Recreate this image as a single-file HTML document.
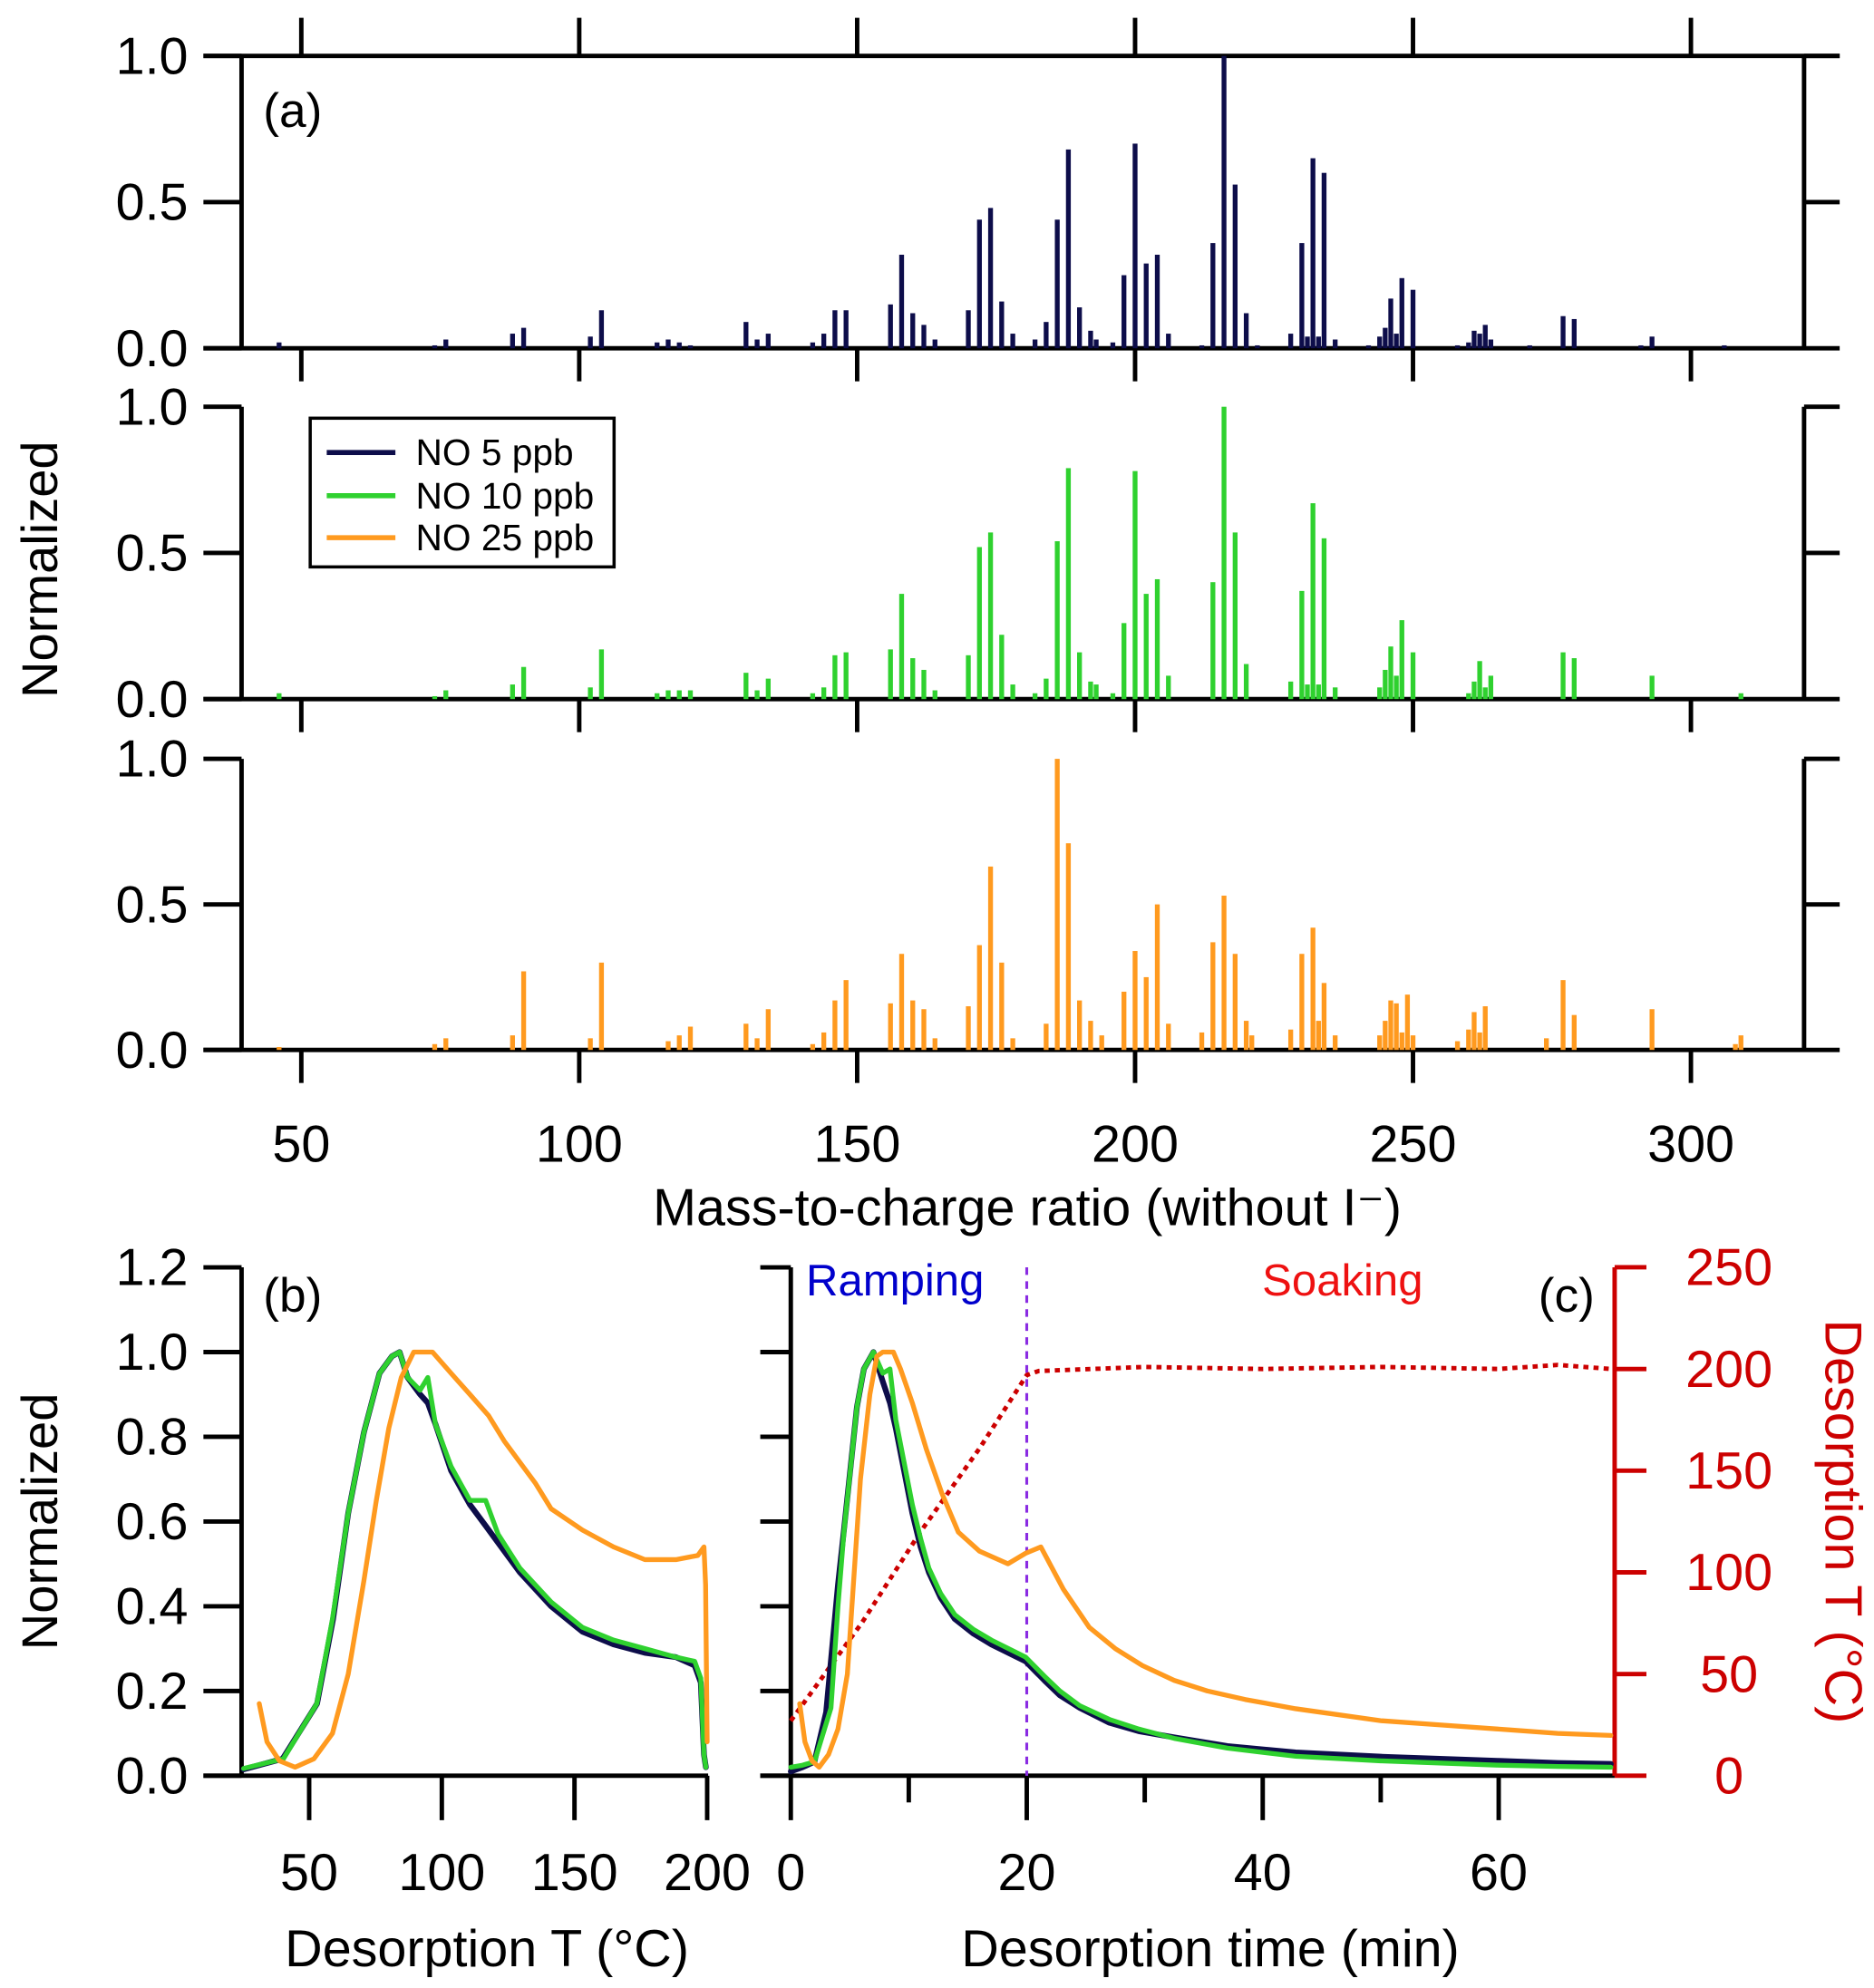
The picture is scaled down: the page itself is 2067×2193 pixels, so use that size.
<!DOCTYPE html>
<html><head><meta charset="utf-8"><style>
html,body{margin:0;padding:0;background:#fff}
svg{display:block}
text{font-family:"Liberation Sans",Arial,sans-serif}
</style></head><body>
<svg id="fig" xmlns="http://www.w3.org/2000/svg" width="2067" height="2193" viewBox="0 0 1474 1564" preserveAspectRatio="none">
<g id="axes"></g>
<g id="marks"></g>
<g id="labels"></g>
</svg>
<script>
// ---------- Panel (a) data ----------
const mz5 = [46,74,76,88,90,102,104,114,116,118,120,130,132,134,142,144,146,148,156,158,160,162,164,170,172,174,176,178,182,184,186,188,190,192,193,196,198,200,202,204,206,212,214,216,218,220,222,228,230,231,232,233,234,236,242,244,245,246,247,248,250,258,260,261,262,263,264,271,277,279,291,293,306];
const h5 = [0.02,0.01,0.03,0.05,0.07,0.04,0.13,0.02,0.03,0.02,0.01,0.09,0.03,0.05,0.02,0.05,0.13,0.13,0.15,0.32,0.12,0.08,0.03,0.13,0.44,0.48,0.16,0.05,0.03,0.09,0.44,0.68,0.14,0.06,0.03,0.02,0.25,0.70,0.29,0.32,0.05,0.01,0.36,1.0,0.56,0.12,0.01,0.05,0.36,0.04,0.65,0.04,0.60,0.03,0.01,0.04,0.07,0.17,0.05,0.24,0.20,0.01,0.02,0.06,0.05,0.08,0.03,0.01,0.11,0.10,0.01,0.04,0.01];
const mz10 = [46,74,76,88,90,102,104,114,116,118,120,130,132,134,142,144,146,148,156,158,160,162,164,170,172,174,176,178,182,184,186,188,190,192,193,196,198,200,202,204,206,214,216,218,220,228,230,231,232,233,234,236,244,245,246,247,248,250,260,261,262,263,264,277,279,293,309];
const h10 = [0.02,0.01,0.03,0.05,0.11,0.04,0.17,0.02,0.03,0.03,0.03,0.09,0.03,0.07,0.02,0.04,0.15,0.16,0.17,0.36,0.14,0.10,0.03,0.15,0.52,0.57,0.22,0.05,0.02,0.07,0.54,0.79,0.16,0.06,0.05,0.02,0.26,0.78,0.36,0.41,0.08,0.40,1.0,0.57,0.12,0.06,0.37,0.05,0.67,0.05,0.55,0.04,0.04,0.10,0.18,0.08,0.27,0.16,0.02,0.06,0.13,0.04,0.08,0.16,0.14,0.08,0.02];
const mz25 = [46,74,76,88,90,102,104,116,118,120,130,132,134,142,144,146,148,156,158,160,162,164,170,172,174,176,178,184,186,188,190,192,194,198,200,202,204,206,212,214,216,218,220,221,228,230,232,233,234,236,244,245,246,247,248,249,250,258,260,261,262,263,274,277,279,293,308,309];
const h25 = [0.01,0.02,0.04,0.05,0.27,0.04,0.30,0.03,0.05,0.08,0.09,0.04,0.14,0.02,0.06,0.17,0.24,0.16,0.33,0.17,0.14,0.04,0.15,0.36,0.63,0.30,0.04,0.09,1.0,0.71,0.17,0.10,0.05,0.20,0.34,0.25,0.50,0.09,0.06,0.37,0.53,0.33,0.10,0.05,0.07,0.33,0.42,0.10,0.23,0.05,0.05,0.10,0.17,0.16,0.06,0.19,0.05,0.03,0.07,0.13,0.06,0.15,0.04,0.24,0.12,0.14,0.02,0.05];
const mzTicks = [50,100,150,200,250,300];
const normTicksA = [0.0,0.5,1.0];
// ---------- Panel (b) data ----------
const bT5 = [25.3,40,53,59,64.7,70.6,76.5,81.2,84.1,87.1,91.8,94.7,97.6,103.5,110.6,116.5,121.2,129.4,141.2,153,164.7,176.5,188.2,195.3,197.6,198.8,199.5];
const bY5 = [0.015,0.04,0.17,0.37,0.62,0.81,0.95,0.99,1.0,0.94,0.90,0.88,0.83,0.72,0.64,0.59,0.55,0.48,0.40,0.34,0.31,0.29,0.28,0.26,0.22,0.05,0.02];
const bT10 = [25.3,40.3,52.9,58.8,64.7,70.6,76.5,81.2,84.1,87.1,91.8,94.7,97.6,103.5,110.6,116.5,121.2,129.4,141.2,153,164.7,176.5,188.2,195.3,197.6,198.8,199.5];
const bY10 = [0.017,0.04,0.17,0.37,0.62,0.81,0.95,0.99,1.0,0.94,0.91,0.94,0.83,0.73,0.65,0.65,0.57,0.49,0.41,0.35,0.32,0.30,0.28,0.27,0.23,0.05,0.02];
const bT25 = [31.2,34.1,38.8,44.7,51.8,58.8,64.7,70.6,75.3,80,84.7,89.4,96.5,103.5,110.6,117.6,123.5,129.4,135.3,141.2,153,164.7,176.5,188.2,196.5,198.8,199.4,199.8,200];
const bY25 = [0.17,0.08,0.035,0.02,0.04,0.10,0.24,0.46,0.65,0.82,0.94,1.0,1.0,0.95,0.90,0.85,0.79,0.74,0.69,0.63,0.58,0.54,0.51,0.51,0.52,0.54,0.45,0.2,0.08];
const bXTicks = [50,100,150,200];
const normTicksB = [0.0,0.2,0.4,0.6,0.8,1.0,1.2];
// ---------- Panel (c) data ----------
const cT5 = [0,1,2,3,4,4.5,5.6,6.2,7,7.8,8.4,8.9,9.6,10.3,11,11.7,12.7,13.9,15.5,17,19.9,21.5,22.8,24.5,27,29.5,32.6,37,42.8,50,55,60,65,69.5];
const cY5 = [0.01,0.02,0.033,0.15,0.45,0.58,0.87,0.96,1.0,0.93,0.88,0.82,0.72,0.62,0.54,0.48,0.42,0.37,0.335,0.31,0.27,0.225,0.19,0.16,0.125,0.105,0.09,0.07,0.055,0.045,0.04,0.035,0.03,0.028];
const cT10 = [0,1,2,3.4,4,4.5,5.6,6.2,7,7.8,8.4,8.9,9.6,10.3,11,11.7,12.7,13.9,15.5,17,19.9,21.5,22.8,24.5,27,29.5,32.6,37,42.8,50,55,60,65,69.5];
const cY10 = [0.02,0.025,0.033,0.16,0.40,0.575,0.87,0.96,1.0,0.95,0.96,0.84,0.74,0.64,0.56,0.49,0.43,0.38,0.345,0.32,0.28,0.235,0.20,0.165,0.133,0.11,0.0875,0.065,0.046,0.035,0.03,0.025,0.022,0.02];
const cT25 = [0.75,1.2,1.8,2.4,3.2,4.0,4.8,5.9,6.7,7.3,7.8,8.7,9.3,10.3,11.5,12.8,14.2,16,18.4,19.9,21.2,23.1,25.3,27.5,29.8,32.5,35.3,38.5,42.8,50,55,60,65,69.5];
const cY25 = [0.17,0.08,0.035,0.02,0.05,0.11,0.24,0.70,0.90,0.99,1.0,1.0,0.96,0.88,0.77,0.667,0.575,0.53,0.50,0.525,0.54,0.44,0.35,0.30,0.26,0.225,0.20,0.18,0.158,0.13,0.12,0.11,0.10,0.095];
const cTempT = [0,6,11,16,20,21,30,40,50,60,65,69.5];
const cTempV = [27,75,120,161,197,199,201,200,201,200,202,200];
const cXTicks = [0,20,40,60];
const cMinorTicks = [10,30,50];
const tempTicks = [0,50,100,150,200,250];

const NS='http://www.w3.org/2000/svg';
const axes=document.getElementById('axes'), marks=document.getElementById('marks'), labels=document.getElementById('labels');
function mk(tag,parent,attrs){const e=document.createElementNS(NS,tag);for(const k in attrs)e.setAttribute(k,attrs[k]);parent.appendChild(e);return e;}
function line(x1,y1,x2,y2,c,w,nm){const e=mk('line',axes,{x1,y1,x2,y2,stroke:c||'#000','stroke-width':w||3.5});


return e;}
function txt(s,x,y,size,anchor,color,nm,extra){const e=mk('text',labels,Object.assign({x,y,'font-size':size,'text-anchor':anchor||'middle',fill:color||'#000'},extra||{}));e.textContent=s;


return e;}

const NAVY='#0d0d4a', GREEN='#2fd12f', ORANGE='#ff9a1f', RED='#cc0000';
const FS=41;
// mass axis
const mx = v => 237 + (v-50)*4.372;
const panelsA=[{top:44,bot:274,mz:mz5,h:h5,c:NAVY,n:'no5'},{top:320,bot:550,mz:mz10,h:h10,c:GREEN,n:'no10'},{top:597,bot:826,mz:mz25,h:h25,c:ORANGE,n:'no25'}];
panelsA.forEach((p,pi)=>{
  const y = v => p.bot - v*(p.bot-p.top);
  line(190,p.top,190,p.bot,'#000',3.5,'y-axis-left-'+p.n);
  line(1419,p.top,1419,p.bot,'#000',3.5,'y-axis-right-'+p.n);
  line(160,p.bot,1447,p.bot,'#000',3.5,'x-axis-'+p.n);
  if(pi===0) line(160,p.top,1447,p.top,'#000',3.5,'top-axis');
  normTicksA.forEach(t=>{
    line(160,y(t),190,y(t),'#000',3.5,'y-tick-'+p.n);
    if(t>0) line(1419,y(t),1447,y(t),'#000',3.5,'y-tick-right-'+p.n);
    txt(t.toFixed(1),148,y(t)+14,FS,'end','#000','y-tick-label-'+p.n);
  });
  mzTicks.forEach(t=>{
    line(mx(t),p.bot,mx(t),p.bot+26,'#000',3.5,'x-tick-'+p.n);
    if(pi===0) line(mx(t),p.top,mx(t),p.top-30,'#000',3.5,'top-tick');
  });
  p.mz.forEach((m,i)=>{
    const r=mk('rect',marks,{x:mx(m)-1.9,y:y(p.h[i]),width:3.8,height:p.bot-y(p.h[i]),fill:p.c});
    
    
  });
});
mzTicks.forEach(t=>txt(String(t),mx(t),914,FS,'middle','#000','x-tick-label'));
txt('Mass-to-charge ratio (without I\u207B)',808,964,FS,'middle','#000','x-axis-title-mass');
txt('(a)',207,100,38,'start','#000','panel-label-a');
txt('Normalized',45,448,40,'middle','#000','y-axis-title-a',{transform:'rotate(-90 45 448)'});
// legend
const lg=mk('rect',labels,{x:244,y:329,width:239,height:117,fill:'#fff',stroke:'#000','stroke-width':2.5});


[['NO 5 ppb',NAVY,356],['NO 10 ppb',GREEN,390],['NO 25 ppb',ORANGE,423]].forEach(([s,c,yy])=>{
  const l=mk('line',labels,{x1:257,y1:yy,x2:311,y2:yy,stroke:c,'stroke-width':4});
  
  
  txt(s,327,yy+10,29,'start','#000','legend-entry');
});
// panel b
const bx = v => 191 + (v-25)*2.087;
const by = v => 1397 - v*333.3;
line(190,997,190,1397,'#000',3.5,'y-axis-b');
line(160,1397,557,1397,'#000',3.5,'x-axis-b');
normTicksB.forEach(t=>{line(160,by(t),190,by(t),'#000',3.5,'y-tick-b');txt(t.toFixed(1),148,by(t)+14,FS,'end','#000','y-tick-label-b');});
bXTicks.forEach(t=>{line(bx(t),1397,bx(t),1432,'#000',3.5,'x-tick-b');txt(String(t),bx(t),1487,FS,'middle','#000','x-tick-label-b');});
txt('Desorption T (\u00B0C)',383,1547,FS,'middle','#000','x-axis-title-b');
txt('(b)',207,1032,38,'start','#000','panel-label-b');
txt('Normalized',45,1197,40,'middle','#000','y-axis-title-b',{transform:'rotate(-90 45 1197)'});
function path(xs,ys,fx,fy,c,w,nm,dash){
  const d=xs.map((v,i)=>(i?'L':'M')+fx(v).toFixed(1)+','+fy(ys[i]).toFixed(1)).join('');
  const a={d,fill:'none',stroke:c,'stroke-width':w,'stroke-linejoin':'round','stroke-linecap':dash?'butt':'round'};
  if(dash)a['stroke-dasharray']=dash;
  const e=mk('path',marks,a);
  
  
}
path(bT5,bY5,bx,by,NAVY,4.5,'line-b-no5');
path(bT10,bY10,bx,by,GREEN,3.8,'line-b-no10');
path(bT25,bY25,bx,by,ORANGE,3.8,'line-b-no25');
// panel c
const cx = v => 622 + v*9.28;
const cy = v => 1397 - v*333.3;
const ty = v => 1397 - v*1.6;
line(622,997,622,1397,'#000',3.5,'y-axis-c');
line(598,1397,1270,1397,'#000',3.5,'x-axis-c');
normTicksB.forEach(t=>line(598,cy(t),622,cy(t),'#000',3.5,'y-tick-c'));
cXTicks.forEach(t=>{line(cx(t),1397,cx(t),1432,'#000',3.5,'x-tick-c');txt(String(t),cx(t),1487,FS,'middle','#000','x-tick-label-c');});
cMinorTicks.forEach(t=>line(cx(t),1397,cx(t),1418,'#000',3.5,'x-minor-tick-c'));
line(1270,997,1270,1397,RED,3.5,'y-axis-right-temp');
tempTicks.forEach(t=>{line(1270,ty(t),1295,ty(t),RED,3.5,'temp-tick');txt(String(t),1360,ty(t)+14,FS,'middle',RED,'temp-tick-label');});
txt('Desorption T (\u00B0C)',1436,1197,FS,'middle',RED,'y-axis-title-temp',{transform:'rotate(90 1436 1197)'});
txt('Desorption time (min)',952,1547,FS,'middle','#000','x-axis-title-c');
txt('(c)',1210,1032,38,'start','#000','panel-label-c');
txt('Ramping',704,1019,35,'middle','#0000cc','ramping-label');
txt('Soaking',1056,1019,35,'middle','#ee1111','soaking-label');
const vl=mk('line',marks,{x1:cx(20),y1:997,x2:cx(20),y2:1397,stroke:'#8a2be2','stroke-width':2.2,'stroke-dasharray':'6,5'});


path(cTempT,cTempV,cx,ty,RED,3.5,'line-temperature','4,4');
path(cT5,cY5,cx,cy,NAVY,4.5,'line-c-no5');
path(cT10,cY10,cx,cy,GREEN,3.8,'line-c-no10');
path(cT25,cY25,cx,cy,ORANGE,3.8,'line-c-no25');
</script>
</body></html>
